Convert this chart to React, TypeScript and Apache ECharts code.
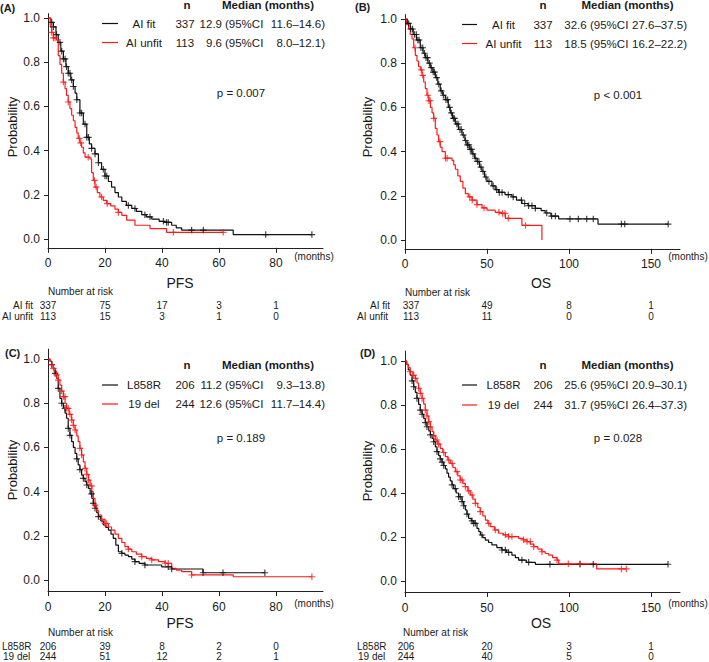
import React, { useEffect, useRef } from 'react';
import * as echarts from 'echarts';

type Pt = [number, number];

// ---------- tick labels ----------
const pfsTicks = [0, 20, 40, 60, 80];
const osTicks = [0, 50, 100, 150];
const probTicks = [0, 0.2, 0.4, 0.6, 0.8, 1.0];

// ---------- (A) PFS by AI fitness ----------
const pfsFit: Pt[] = [[0,1],[1,0.98],[1.9,0.96],[2.8,0.925],[3.6,0.89],[4.5,0.85],[5.4,0.815],[6.3,0.78],[7.1,0.75],[8,0.72],[8.9,0.69],[9.5,0.66],[10.1,0.63],[11.2,0.57],[12.4,0.52],[13.6,0.46],[14.5,0.43],[15.3,0.41],[16.5,0.385],[17.7,0.345],[18.8,0.315],[20,0.285],[21.2,0.26],[22.3,0.235],[23.5,0.21],[24.7,0.19],[25.9,0.17],[27.5,0.152],[29.4,0.138],[31,0.125],[32.9,0.11],[34.5,0.1],[36.4,0.09],[39,0.08],[41,0.075],[43.4,0.062],[45,0.05],[46.9,0.04],[65,0.02],[92.6,0.02]];
const pfsUnfit: Pt[] = [[0,1],[0.8,0.96],[1.3,0.935],[1.9,0.91],[3.0,0.9],[3.6,0.83],[4.2,0.79],[4.8,0.75],[5.4,0.71],[6.0,0.68],[6.5,0.65],[7.1,0.62],[7.7,0.59],[8.3,0.56],[8.9,0.535],[9.5,0.505],[10.1,0.48],[10.6,0.455],[11.2,0.435],[11.8,0.415],[12.4,0.39],[13.0,0.37],[14.7,0.362],[15.3,0.3],[15.9,0.265],[16.5,0.235],[17.3,0.21],[18.2,0.19],[19.4,0.175],[20.6,0.16],[22,0.15],[23.5,0.135],[24.7,0.12],[25.9,0.107],[27.6,0.085],[30.5,0.062],[35.8,0.047],[41.6,0.03],[61.5,0.03]];
const pfsFitCensor = [1.3,1.9,3.0,4.2,4.8,5.4,6.0,6.5,7.1,7.7,8.3,8.9,10.1,11.2,11.8,13.0,13.6,14.2,15.3,16.5,17.7,19.4,20.0,20.6,28.2,30.5,34.0,35.8,40.5,41.6,42.2,50.4,54.5,76.4,92.6];
const pfsUnfitCensor = [1.3,1.9,2.5,5.4,7.1,11.0,11.5,14.1,16.3,16.9,18.8,20.8,24.7,44,61.5];

// ---------- (B) OS by AI fitness ----------
const osFit: Pt[] = [[0,1],[1.5,0.98],[3.2,0.955],[5,0.93],[7,0.905],[9.3,0.87],[11,0.845],[12.4,0.825],[14,0.8],[15.4,0.78],[17,0.76],[18.5,0.735],[20,0.705],[21.5,0.675],[23,0.655],[24.6,0.635],[26.4,0.6],[27.6,0.575],[29,0.55],[30.7,0.525],[32.6,0.5],[34.8,0.475],[36.5,0.45],[37.8,0.43],[39.5,0.41],[40.9,0.39],[42.5,0.37],[43.9,0.355],[45.5,0.33],[46.9,0.31],[48.5,0.285],[50,0.265],[53,0.245],[55,0.228],[57.1,0.215],[61,0.205],[65.2,0.195],[68,0.18],[71.3,0.165],[75,0.155],[79.5,0.143],[83,0.133],[85.5,0.122],[89,0.108],[93.7,0.095],[117.7,0.072],[160.5,0.072]];
const osUnfit: Pt[] = [[0,1],[1,0.975],[2.2,0.955],[3.2,0.93],[4.3,0.91],[5.3,0.87],[6.3,0.835],[7.3,0.81],[8.3,0.785],[9.3,0.77],[10.4,0.745],[11.4,0.715],[12.4,0.685],[13.4,0.655],[14.5,0.63],[15.5,0.6],[16.5,0.575],[17.5,0.55],[18.5,0.505],[19.5,0.475],[20.5,0.445],[21.5,0.42],[22.6,0.4],[24.6,0.37],[28.7,0.36],[29.7,0.34],[30.7,0.32],[32.2,0.29],[33.7,0.265],[35.3,0.235],[36.8,0.21],[38.6,0.195],[40.9,0.18],[43.9,0.16],[47,0.145],[50,0.135],[55,0.125],[58.1,0.12],[61.2,0.098],[71.3,0.066],[83.5,0.0]];
const osFitCensor = [2.2,3.5,4.6,5.8,6.9,7.8,8.6,9.7,10.8,11.9,12.8,13.7,14.9,16.1,17.2,18.0,19.3,20.6,22.1,23.4,25.0,26.0,27.2,28.3,29.5,30.2,31.6,32.4,33.5,34.3,35.6,36.9,38.1,38.9,39.8,40.6,41.5,42.8,44.2,45.1,46.3,47.6,49.3,51.2,53.8,55.9,57.5,59.2,63.0,66.0,71.0,73.0,75.4,77.4,79.5,86.4,89.4,91.7,100.6,105.7,110.8,114.8,132,134,160.5];
const osUnfitCensor = [6.1,10.0,10.8,13.9,14.6,15.4,17.6,21.3,24.7,25.7,39.5,41.0,43.9,48.2,57.3,59.5,61.0,63.0,73.5];

// ---------- (C) PFS by mutation ----------
const pfsL858R: Pt[] = [[0,1],[0.7,0.99],[1.3,0.975],[1.9,0.958],[2.5,0.935],[3.0,0.913],[3.6,0.867],[4.2,0.822],[4.8,0.8],[5.4,0.777],[6.0,0.755],[6.5,0.732],[7.1,0.686],[7.7,0.655],[8.3,0.626],[8.9,0.6],[9.5,0.573],[10.1,0.548],[10.6,0.521],[11.2,0.5],[11.8,0.475],[12.4,0.46],[13.0,0.445],[13.6,0.43],[14.2,0.415],[14.8,0.39],[15.4,0.37],[15.9,0.347],[16.5,0.325],[17.1,0.305],[17.7,0.287],[18.5,0.268],[19.4,0.249],[20.3,0.238],[21.2,0.226],[22.1,0.208],[22.9,0.189],[23.8,0.158],[24.7,0.128],[25.9,0.121],[27,0.113],[28.2,0.106],[29.4,0.095],[30.5,0.083],[32,0.075],[34,0.068],[39.9,0.06],[43.4,0.05],[54.4,0.033],[76.1,0.033]];
const pfsDel19: Pt[] = [[0,1],[0.7,0.99],[1.3,0.975],[1.9,0.958],[2.5,0.945],[3.0,0.928],[3.6,0.905],[4.2,0.882],[4.8,0.855],[5.4,0.83],[6.0,0.8],[6.5,0.777],[7.4,0.75],[8.3,0.724],[8.9,0.7],[9.5,0.679],[10.1,0.652],[10.6,0.626],[11.2,0.596],[11.8,0.566],[12.4,0.535],[13.0,0.505],[13.6,0.478],[14.2,0.452],[14.8,0.426],[15.4,0.4],[15.9,0.37],[16.5,0.339],[17.1,0.315],[17.7,0.294],[18.8,0.275],[20,0.256],[21.2,0.24],[22.3,0.226],[23.5,0.208],[24.7,0.189],[25.9,0.17],[27,0.151],[28.2,0.14],[29.4,0.128],[31,0.117],[32.9,0.106],[34.5,0.098],[36.4,0.091],[38.8,0.083],[41.1,0.076],[43.4,0.053],[45,0.045],[46.9,0.038],[50.4,0.023],[65,0.015],[92.6,0.015]];
const pfsL858RCensor = [1.3,2.5,3.6,4.8,5.96,7.1,7.7,10.1,11.2,12.4,13.6,15.3,15.9,16.5,17.7,25.9,30.5,34,42.2,43.4,54.4,61.4,76.1];
const pfsDel19Censor = [1.3,1.9,3.0,3.6,4.8,5.4,5.96,6.5,7.1,7.7,8.3,8.9,9.5,11.2,11.8,13.0,13.6,14.2,15.3,16.5,18.8,20,20.6,28.2,32.9,36.4,41.1,42.2,50.4,92.6];

// ---------- (D) OS by mutation ----------
const osL858R: Pt[] = [[0,1],[1,0.985],[2,0.96],[3.2,0.936],[4.3,0.91],[5.3,0.883],[6.3,0.857],[7.3,0.83],[8.3,0.803],[9.3,0.777],[10.4,0.758],[11.4,0.739],[12.4,0.72],[13.4,0.701],[14.5,0.682],[15.5,0.664],[16.5,0.648],[17.5,0.633],[18.5,0.61],[19.5,0.588],[20.5,0.57],[21.5,0.555],[22.6,0.54],[23.6,0.525],[24.6,0.51],[25.6,0.49],[26.6,0.472],[27.6,0.455],[28.7,0.437],[29.7,0.42],[31.2,0.4],[32.7,0.383],[34.8,0.361],[35.8,0.342],[36.8,0.323],[37.8,0.304],[38.8,0.285],[40.4,0.273],[41.9,0.262],[43.9,0.239],[45,0.224],[46,0.209],[47.5,0.197],[49,0.186],[51,0.175],[53,0.164],[56,0.152],[59.1,0.141],[62,0.13],[65.2,0.118],[67.3,0.106],[69.3,0.095],[74,0.085],[79.5,0.076],[160.4,0.076]];
const osDel19: Pt[] = [[0,1],[1,0.985],[2,0.97],[3.2,0.951],[4.8,0.935],[6.3,0.921],[7.3,0.9],[8.3,0.876],[9.3,0.853],[10.4,0.83],[11.4,0.804],[12.4,0.777],[13.4,0.75],[14.5,0.724],[15.5,0.7],[16.5,0.679],[17.5,0.66],[18.5,0.641],[20,0.622],[21.5,0.603],[23,0.584],[24.6,0.565],[26.1,0.55],[27.6,0.535],[29.2,0.516],[30.7,0.497],[32.2,0.478],[33.7,0.459],[35.3,0.444],[36.8,0.429],[38.3,0.41],[39.8,0.391],[41.4,0.372],[42.9,0.353],[44.4,0.334],[45.9,0.315],[47.5,0.296],[49,0.277],[50.5,0.262],[52,0.247],[54.5,0.232],[57.1,0.217],[60,0.21],[63.2,0.202],[69.3,0.194],[72,0.187],[74.4,0.179],[76.5,0.168],[78.5,0.156],[81,0.145],[83.5,0.133],[85.5,0.125],[87.6,0.118],[90,0.106],[92.7,0.095],[93.7,0.078],[116.9,0.055],[135,0.055]];
const osL858RCensor = [4.3,5.3,7.3,9.3,10.4,12.4,13.4,15.5,17.5,19.5,21.5,22.6,23.6,28.7,30.7,32.7,33.7,34.8,35.8,37.8,40.9,41.9,42.9,46.9,59.1,61.2,63.2,71.3,75.4,88.4,106.7,114.8,160.4];
const osDel19Censor = [3.2,5.3,6.3,8.3,9.3,10.4,12.4,13.4,14.5,15.5,17.5,19.5,20.5,23.6,26.6,28.7,31.7,33.7,34.8,36.8,38.8,40.9,42.9,45.9,51,55.1,61.2,63.2,65.2,72.3,74.4,76.4,78.5,83.5,92.7,99.6,106.7,132,135];

// ---------- legends, p-values, numbers at risk ----------
const legendA = [['AI fit', '337', '12.9', '11.6–14.6)'], ['AI unfit', '113', '9.6', '8.0–12.1)']];
const legendB = [['AI fit', '337', '32.6', '27.6–37.5)'], ['AI unfit', '113', '18.5', '16.2–22.2)']];
const legendC = [['L858R', '206', '11.2', '9.3–13.8)'], ['19 del', '244', '12.6', '11.7–14.4)']];
const legendD = [['L858R', '206', '25.6', '20.9–30.1)'], ['19 del', '244', '31.7', '26.4–37.3)']];
const pValues = ['p = 0.007', 'p < 0.001', 'p = 0.189', 'p = 0.028'];
const endpoints = ['PFS', 'OS', 'PFS', 'OS'];
const riskAFit = [337, 75, 17, 3, 1];
const riskAUnfit = [113, 15, 3, 1, 0];
const riskBFit = [337, 49, 8, 1];
const riskBUnfit = [113, 11, 0, 0];
const riskCL858R = [206, 39, 8, 2, 0];
const riskCDel19 = [244, 51, 12, 2, 1];
const riskDL858R = [206, 20, 3, 1];
const riskDDel19 = [244, 40, 5, 0];

const FONT = "'Liberation Sans', Arial, Helvetica, sans-serif";
const INK = '#1a1a1a';
const BLACK = '#111111';
const RED = '#ff1a1a';
const CROSS = 'path://M4.1,0 H5.9 V4.1 H10 V5.9 H5.9 V10 H4.1 V5.9 H0 V4.1 H4.1 Z';

function stepAt(curve: Pt[], t: number): number {
  let v = curve[0][1];
  for (const [x, y] of curve) {
    if (x <= t) v = y;
    else break;
  }
  return v;
}

// layout of each panel (pixel geometry, not data)
const panels = [
  { left: 48, top: 13.6, width: 275, height: 234.2, xMax: 96.5, yMin: -0.04, yMax: 1.02, ticks: pfsTicks,
    curves: [pfsFit, pfsUnfit], censors: [pfsFitCensor, pfsUnfitCensor], legend: legendA,
    risk: [riskAFit, riskAUnfit], side: 0, labelMargin: 9,
    hdrY: 5, rowY: [23.5, 42.5], pY: 93, monthsY: 256, endY: 283, narY: 291.7, riskY: [305.8, 316.4],
    letter: [0, 7.5], prob: [12, 127], riskLabelX: [13, 2] },
  { left: 405, top: 14.6, width: 275, height: 234.2, xMax: 167.7, yMin: -0.04, yMax: 1.02, ticks: osTicks,
    curves: [osFit, osUnfit], censors: [osFitCensor, osUnfitCensor], legend: legendB,
    risk: [riskBFit, riskBUnfit], side: 1, labelMargin: 9,
    hdrY: 5, rowY: [24.5, 43.5], pY: 95, monthsY: 256, endY: 283, narY: 292, riskY: [305.8, 316.4],
    letter: [355, 7], prob: [367, 127], riskLabelX: [370, 357] },
  { left: 48, top: 349.1, width: 275, height: 242, xMax: 96.5, yMin: -0.05, yMax: 1.045, ticks: pfsTicks,
    curves: [pfsL858R, pfsDel19], censors: [pfsL858RCensor, pfsDel19Censor], legend: legendC,
    risk: [riskCL858R, riskCDel19], side: 0, labelMargin: 10,
    hdrY: 365, rowY: [385, 404], pY: 438.3, monthsY: 603, endY: 623, narY: 632.3, riskY: [646.1, 656.7],
    letter: [5, 353], prob: [12, 470], riskLabelX: [2, 3] },
  { left: 405, top: 351.1, width: 275, height: 240.9, xMax: 167.7, yMin: -0.05, yMax: 1.045, ticks: osTicks,
    curves: [osL858R, osDel19], censors: [osL858RCensor, osDel19Censor], legend: legendD,
    risk: [riskDL858R, riskDDel19], side: 1, labelMargin: 10,
    hdrY: 365, rowY: [385, 405], pY: 438.3, monthsY: 603, endY: 623, narY: 632.5, riskY: [646.1, 656.7],
    letter: [360, 353], prob: [367, 471], riskLabelX: [357, 358] },
];

const legendCols = [
  { l1: 102, l2: 118, label: 144, n: 185, med: 222, ci0: 225, ciR: 325, hN: 187, hMed: 268, p: 241, months: 314, end: 180 },
  { l1: 462, l2: 477, label: 503.5, n: 543, med: 586.7, ci0: 590, ciR: 687, hN: 543, hMed: 627.5, p: 618, months: 688, end: 541 },
];

function txt(text: string, x: number, y: number, size: number, align = 'left', weight = 'normal', extra: any = {}) {
  return {
    type: 'text', x, y, silent: true, ...extra,
    style: { text, fontSize: size, fontFamily: FONT, fontWeight: weight, fill: INK, align, verticalAlign: 'middle' },
  };
}

function buildOption() {
  const grid: any[] = [];
  const xAxis: any[] = [];
  const yAxis: any[] = [];
  const series: any[] = [];
  const graphic: any[] = [];
  const colors = [BLACK, RED];

  panels.forEach((p, i) => {
    grid.push({ left: p.left, top: p.top, width: p.width, height: p.height, containLabel: false });
    xAxis.push({
      type: 'value', gridIndex: i, min: 0, max: p.xMax,
      axisLine: { show: true, onZero: false, lineStyle: { color: '#222', width: 1 } },
      axisTick: { show: true, length: 5, customValues: p.ticks, lineStyle: { color: '#222' } },
      axisLabel: { customValues: p.ticks, margin: p.labelMargin, fontSize: 12, color: INK, fontFamily: FONT },
      splitLine: { show: false },
    });
    yAxis.push({
      type: 'value', gridIndex: i, min: p.yMin, max: p.yMax,
      axisLine: { show: true, onZero: false, lineStyle: { color: '#222', width: 1 } },
      axisTick: { show: true, length: 4, customValues: probTicks, lineStyle: { color: '#222' } },
      axisLabel: { customValues: probTicks, margin: 8, fontSize: 12, color: INK, fontFamily: FONT,
        formatter: (v: number) => v.toFixed(1) },
      splitLine: { show: false },
    });
    p.curves.forEach((c, k) => {
      series.push({
        type: 'line', xAxisIndex: i, yAxisIndex: i, data: c, step: 'end', showSymbol: false,
        lineStyle: { color: colors[k], width: 1.2 }, z: 2 + k, silent: true,
      });
      series.push({
        type: 'scatter', xAxisIndex: i, yAxisIndex: i, symbol: CROSS, symbolSize: 6.5,
        data: p.censors[k].map((t) => [t, stepAt(c, t)]),
        itemStyle: { color: colors[k] }, z: 4 + k, silent: true,
      });
    });

    const L = legendCols[p.side];
    graphic.push(txt('n', L.hN, p.hdrY, 11.5, 'center', 'bold'));
    graphic.push(txt('Median (months)', L.hMed, p.hdrY, 11.5, 'center', 'bold'));
    p.legend.forEach((row, k) => {
      const yy = p.rowY[k];
      graphic.push({ type: 'line', silent: true, shape: { x1: L.l1, y1: yy, x2: L.l2, y2: yy },
        style: { stroke: colors[k], lineWidth: 1.2 } });
      graphic.push(txt(row[0], L.label, yy, 11.5, 'center'));
      graphic.push(txt(row[1], L.n, yy, 11.5, 'center'));
      graphic.push(txt(row[2], L.med, yy, 11.5, 'right'));
      graphic.push(txt('(95%CI', L.ci0, yy, 11.5, 'left'));
      graphic.push(txt(row[3], L.ciR, yy, 11.5, 'right'));
    });
    graphic.push(txt(pValues[i], L.p, p.pY, 11.5, 'center'));

    const letter = ['(A)', '(B)', '(C)', '(D)'][i];
    graphic.push(txt(letter, p.letter[0], p.letter[1], 11, 'left', 'bold'));
    graphic.push(txt('Probability', p.prob[0], p.prob[1], 13, 'center', 'normal', { rotation: Math.PI / 2 }));
    graphic.push(txt('(months)', L.months, p.monthsY, 10, 'center'));
    graphic.push(txt(endpoints[i], L.end, p.endY, 14, 'center'));
    graphic.push(txt('Number at risk', p.left - (i === 3 ? 2 : 0), p.narY, 10, 'left'));

    p.legend.forEach((row, k) => {
      const yy = p.riskY[k];
      graphic.push(txt(row[0], p.riskLabelX[k], yy, 10, 'left'));
      p.risk[k].forEach((n, j) => {
        const tx = p.left + (p.ticks[j] / p.xMax) * p.width + (j === 0 && p.side ? (i === 1 ? 6 : 1) : 0);
        graphic.push(txt(String(n), tx, yy, 10, 'center'));
      });
    });
  });

  return {
    animation: false,
    backgroundColor: '#ffffff',
    textStyle: { fontFamily: FONT },
    grid, xAxis, yAxis, series, graphic,
  };
}

export default function App() {
  const ref = useRef<HTMLDivElement>(null);
  useEffect(() => {
    if (!ref.current) return;
    const chart = echarts.init(ref.current, undefined, { renderer: 'svg' });
    chart.setOption(buildOption() as any);
    return () => chart.dispose();
  }, []);
  return (
    <div
      ref={ref}
      style={{ position: 'absolute', left: 0, top: 0, width: 709, height: 662, background: '#fff' }}
    />
  );
}
